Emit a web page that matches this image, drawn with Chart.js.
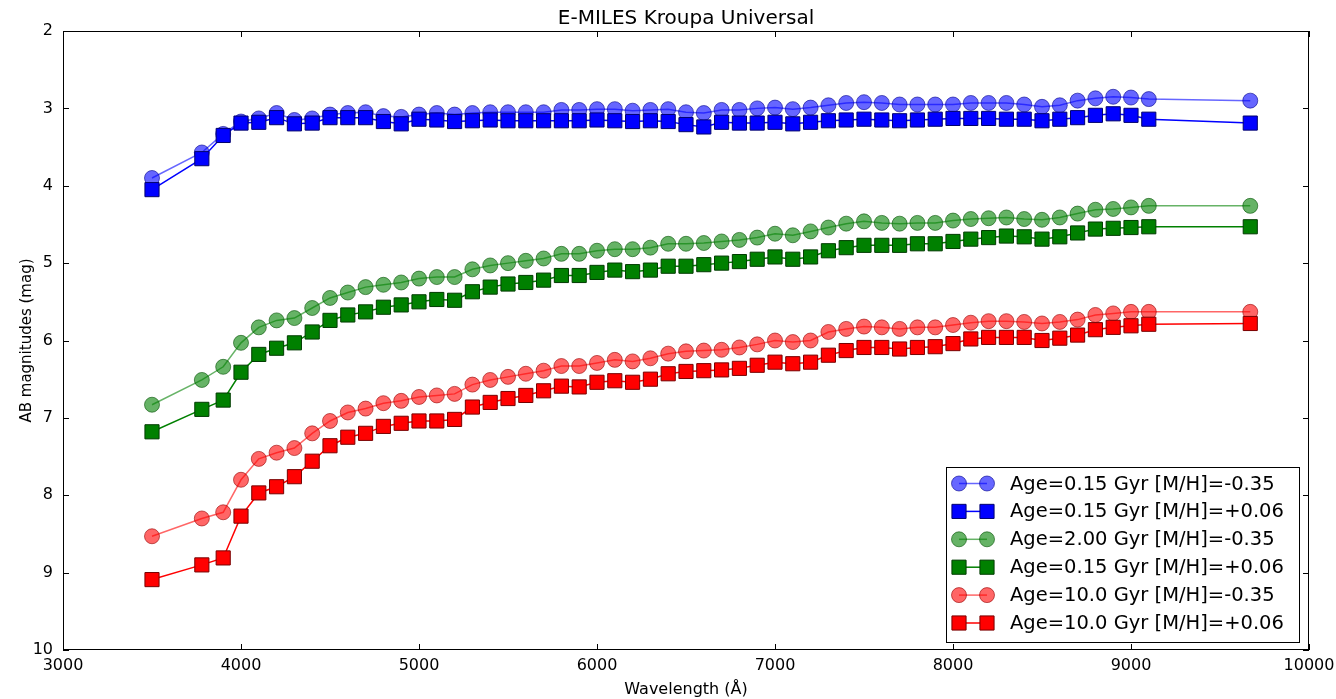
<!DOCTYPE html>
<html>
<head>
<meta charset="utf-8">
<script src="https://cdn.jsdelivr.net/npm/chart.js@4.4.1/dist/chart.umd.min.js"></script>
<style>
  body { margin: 0; background: #fff; }
  #wrap { width: 1336px; height: 699px; }
</style>
</head>
<body>
<div id="wrap"><canvas id="magChart"></canvas></div>
<script>
// wavelengths in Angstrom
const wavelength = [3500, 3780, 3900, 4000, 4100, 4200, 4300, 4400, 4500, 4600, 4700, 4800, 4900, 5000,
  5100, 5200, 5300, 5400, 5500, 5600, 5700, 5800, 5900, 6000, 6100, 6200, 6300, 6400, 6500, 6600,
  6700, 6800, 6900, 7000, 7100, 7200, 7300, 7400, 7500, 7600, 7700, 7800, 7900, 8000, 8100, 8200,
  8300, 8400, 8500, 8600, 8700, 8800, 8900, 9000, 9100, 9670];

const young_low = [3.90, 3.57, 3.33, 3.17, 3.13, 3.06, 3.15, 3.13, 3.08, 3.06, 3.05, 3.10, 3.11, 3.08,
  3.06, 3.08, 3.06, 3.05, 3.05, 3.05, 3.05, 3.02, 3.02, 3.01, 3.01, 3.03, 3.02, 3.01, 3.05, 3.06,
  3.02, 3.02, 3.00, 2.99, 3.01, 2.99, 2.96, 2.93, 2.92, 2.93, 2.95, 2.95, 2.95, 2.95, 2.93, 2.93,
  2.93, 2.95, 2.98, 2.96, 2.90, 2.87, 2.85, 2.86, 2.88, 2.90];
const young_high = [4.05, 3.65, 3.35, 3.19, 3.18, 3.12, 3.20, 3.19, 3.12, 3.12, 3.12, 3.17, 3.20, 3.14,
  3.15, 3.17, 3.16, 3.15, 3.16, 3.16, 3.16, 3.16, 3.16, 3.15, 3.16, 3.17, 3.16, 3.17, 3.21, 3.24,
  3.18, 3.19, 3.19, 3.18, 3.20, 3.18, 3.16, 3.15, 3.14, 3.15, 3.16, 3.15, 3.14, 3.13, 3.13, 3.13,
  3.14, 3.14, 3.16, 3.14, 3.12, 3.09, 3.07, 3.09, 3.14, 3.19];
const mid_low = [6.83, 6.51, 6.34, 6.03, 5.83, 5.74, 5.71, 5.58, 5.45, 5.38, 5.31, 5.28, 5.25, 5.20,
  5.18, 5.18, 5.08, 5.03, 5.00, 4.97, 4.94, 4.88, 4.88, 4.84, 4.82, 4.82, 4.80, 4.75, 4.75, 4.74,
  4.72, 4.70, 4.67, 4.62, 4.64, 4.59, 4.54, 4.49, 4.46, 4.48, 4.49, 4.48, 4.48, 4.45, 4.43, 4.42,
  4.41, 4.43, 4.44, 4.41, 4.36, 4.31, 4.30, 4.28, 4.26, 4.26];
const mid_high = [7.18, 6.89, 6.77, 6.41, 6.18, 6.10, 6.03, 5.89, 5.74, 5.67, 5.63, 5.57, 5.54, 5.50,
  5.47, 5.48, 5.37, 5.31, 5.27, 5.25, 5.22, 5.16, 5.16, 5.12, 5.09, 5.11, 5.09, 5.04, 5.04, 5.02,
  5.00, 4.98, 4.95, 4.92, 4.95, 4.92, 4.84, 4.80, 4.77, 4.77, 4.77, 4.75, 4.75, 4.72, 4.69, 4.67,
  4.65, 4.66, 4.69, 4.66, 4.61, 4.56, 4.55, 4.54, 4.53, 4.53];
const old_low = [8.53, 8.30, 8.22, 7.80, 7.53, 7.45, 7.39, 7.20, 7.04, 6.93, 6.88, 6.81, 6.78, 6.73,
  6.71, 6.69, 6.57, 6.51, 6.47, 6.43, 6.39, 6.33, 6.33, 6.29, 6.25, 6.27, 6.23, 6.17, 6.14, 6.13,
  6.12, 6.09, 6.05, 6.00, 6.02, 6.00, 5.89, 5.85, 5.82, 5.83, 5.85, 5.83, 5.83, 5.80, 5.77, 5.75,
  5.75, 5.76, 5.78, 5.76, 5.73, 5.67, 5.65, 5.63, 5.63, 5.63];
const old_high = [9.09, 8.90, 8.81, 8.27, 7.97, 7.89, 7.76, 7.56, 7.36, 7.25, 7.20, 7.11, 7.07, 7.04,
  7.04, 7.02, 6.86, 6.80, 6.75, 6.71, 6.65, 6.59, 6.60, 6.54, 6.52, 6.54, 6.50, 6.43, 6.40, 6.39,
  6.38, 6.36, 6.32, 6.28, 6.30, 6.28, 6.19, 6.13, 6.09, 6.09, 6.11, 6.09, 6.08, 6.04, 5.98, 5.96,
  5.96, 5.96, 6.00, 5.97, 5.93, 5.86, 5.83, 5.81, 5.79, 5.78];

const seriesLabels = [
  'Age=0.15 Gyr [M/H]=-0.35',
  'Age=0.15 Gyr [M/H]=+0.06',
  'Age=2.00 Gyr [M/H]=-0.35',
  'Age=0.15 Gyr [M/H]=+0.06',
  'Age=10.0 Gyr [M/H]=-0.35',
  'Age=10.0 Gyr [M/H]=+0.06'
];
const xTicks = [3000, 4000, 5000, 6000, 7000, 8000, 9000, 10000];
const yTicks = [2, 3, 4, 5, 6, 7, 8, 9, 10];

const FONT = "'DejaVu Sans', sans-serif";

function toPoints(ys) {
  return wavelength.map((w, i) => ({ x: w, y: ys[i] }));
}

// circles are half transparent, squares are solid (like alpha=0.6 in matplotlib)
function makeSet(idx, ys, rgb, edge, square) {
  const a = square ? 1 : 0.6;
  const col = `rgba(${rgb},${a})`;
  return {
    label: seriesLabels[idx],
    data: toPoints(ys),
    borderColor: col,
    borderWidth: 1.5,
    backgroundColor: col,
    pointStyle: square ? 'rect' : 'circle',
    pointRadius: square ? 10 : 7.5,
    pointBackgroundColor: col,
    pointBorderColor: `rgba(${edge},${a})`,
    pointBorderWidth: 1,
    tension: 0,
    order: 6 - idx
  };
}

const datasets = [
  makeSet(0, young_low, '0,0,255', '0,0,140', false),
  makeSet(1, young_high, '0,0,255', '0,0,110', true),
  makeSet(2, mid_low, '0,128,0', '0,80,0', false),
  makeSet(3, mid_high, '0,128,0', '0,60,0', true),
  makeSet(4, old_low, '255,0,0', '150,0,0', false),
  makeSet(5, old_high, '255,0,0', '120,0,0', true)
];

// frame, inward ticks, title and legend box drawn on top
const framePlugin = {
  id: 'frame',
  afterDraw(chart) {
    const ctx = chart.ctx;
    const a = chart.chartArea;
    const xs = chart.scales.x, ys = chart.scales.y;
    ctx.save();
    ctx.strokeStyle = '#000';
    ctx.lineWidth = 1;
    ctx.strokeRect(a.left + 0.5, a.top + 0.5, a.right - a.left - 1, a.bottom - a.top - 1);
    ctx.beginPath();
    xTicks.forEach(v => {
      const px = Math.round(xs.getPixelForValue(v)) + 0.5;
      ctx.moveTo(px, a.bottom); ctx.lineTo(px, a.bottom - 6);
      ctx.moveTo(px, a.top); ctx.lineTo(px, a.top + 6);
    });
    yTicks.forEach(v => {
      const py = Math.round(ys.getPixelForValue(v)) + 0.5;
      ctx.moveTo(a.left, py); ctx.lineTo(a.left + 6, py);
      ctx.moveTo(a.right, py); ctx.lineTo(a.right - 6, py);
    });
    ctx.stroke();

    // title
    ctx.fillStyle = '#000';
    ctx.font = `20px ${FONT}`;
    ctx.textAlign = 'center';
    ctx.textBaseline = 'alphabetic';
    ctx.fillText('E-MILES Kroupa Universal', (a.left + a.right) / 2, a.top - 7);

    // legend
    const bw = 353, bh = 175;
    const bx = a.right - 10 - bw, by = a.bottom - 8 - bh;
    ctx.fillStyle = '#fff';
    ctx.fillRect(bx, by, bw, bh);
    ctx.strokeRect(bx + 0.5, by + 0.5, bw, bh);
    ctx.font = `19.5px ${FONT}`;
    ctx.textAlign = 'left';
    ctx.textBaseline = 'middle';
    chart.data.datasets.forEach((ds, i) => {
      const ry = by + 16.5 + i * 27.9;
      const x1 = bx + 13, x2 = bx + 41;
      ctx.strokeStyle = ds.borderColor;
      ctx.lineWidth = 1.5;
      ctx.beginPath();
      ctx.moveTo(x1, ry); ctx.lineTo(x2, ry);
      ctx.stroke();
      ctx.fillStyle = ds.pointBackgroundColor;
      ctx.strokeStyle = ds.pointBorderColor;
      ctx.lineWidth = 1;
      [x1, x2].forEach(px => {
        Chart.helpers.drawPoint(ctx, {
          pointStyle: ds.pointStyle, radius: ds.pointRadius, rotation: 0, borderWidth: 1
        }, px, ry);
      });
      ctx.fillStyle = '#000';
      ctx.fillText(ds.label, bx + 64, ry + 1);
    });
    ctx.restore();
  }
};

new Chart(document.getElementById('magChart'), {
  type: 'line',
  data: { datasets: datasets },
  options: {
    responsive: true,
    maintainAspectRatio: false,
    animation: false,
    layout: { padding: { top: 31, right: 27, left: 0, bottom: 0 } },
    plugins: {
      legend: { display: false },
      tooltip: { enabled: false },
      title: { display: false }
    },
    scales: {
      x: {
        type: 'linear',
        min: 3000,
        max: 10000,
        afterFit: s => { s.height = 49; s.paddingLeft = 0; s.paddingRight = 0; },
        afterBuildTicks: s => { s.ticks = xTicks.map(v => ({ value: v })); },
        ticks: {
          color: '#000', font: { family: FONT, size: 16 }, padding: 6, maxRotation: 0,
          callback: v => String(v)
        },
        grid: { display: false, drawTicks: false },
        border: { display: false },
        title: {
          display: true, text: 'Wavelength (Å)', color: '#000',
          font: { family: FONT, size: 16 }, padding: { top: 0, bottom: 0 }
        }
      },
      y: {
        reverse: true,
        min: 2,
        max: 10,
        afterFit: s => { s.width = 63; s.paddingTop = 0; s.paddingBottom = 0; },
        afterBuildTicks: s => { s.ticks = yTicks.map(v => ({ value: v })); },
        ticks: { color: '#000', font: { family: FONT, size: 16 }, padding: 10 },
        grid: { display: false, drawTicks: false },
        border: { display: false },
        title: {
          display: true, text: 'AB magnitudes (mag)', color: '#000',
          font: { family: FONT, size: 15 }, padding: { top: 18, bottom: 0 }
        }
      }
    }
  },
  plugins: [framePlugin]
});
</script>
</body>
</html>
